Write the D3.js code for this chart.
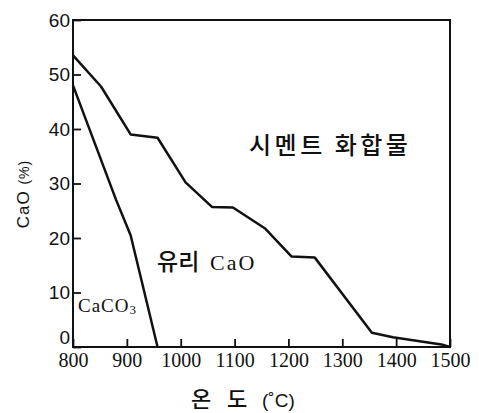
<!DOCTYPE html>
<html>
<head>
<meta charset="utf-8">
<script src="https://cdn.jsdelivr.net/npm/d3@7"></script>
<style>
  body { margin: 0; background: #fff; }
  svg { display: block; }
</style>
</head>
<body>
<svg width="479" height="413"></svg>
<script>
(function () {
    // temperatures (°C) and CaO (%)
    const xTicks = [800, 900, 1000, 1100, 1200, 1300, 1400, 1500];
    const yTicks = [0, 10, 20, 30, 40, 50, 60];

    const cementTemp = [800, 852, 907, 957, 1009, 1058, 1097, 1156, 1206, 1249, 1355, 1394, 1487, 1500];
    const cementCaO  = [53.5, 47.8, 39, 38.4, 30.2, 25.7, 25.6, 21.8, 16.6, 16.4, 2.6, 1.8, 0.4, 0];

    const caco3Temp = [800, 880, 907, 957];
    const caco3CaO  = [48, 27, 20.5, 0];

    const svg = d3.select('svg');

    const x = d3.scaleLinear().domain([800, 1500]).range([73, 450]);
    const y = d3.scaleLinear().domain([0, 60]).range([347, 20]);

    const ink = '#111';
    const kr = 'Noto Sans CJK KR, sans-serif';
    const serif = 'Liberation Serif, serif';

    // frame
    svg.append('rect')
        .attr('x', x(800))
        .attr('y', y(60))
        .attr('width', x(1500) - x(800))
        .attr('height', y(0) - y(60))
        .attr('fill', 'none')
        .attr('stroke', ink)
        .attr('stroke-width', 2);

    // axes with ticks pointing inward
    const xAxis = svg.append('g')
        .attr('transform', `translate(0,${y(0)})`)
        .call(d3.axisBottom(x).tickValues(xTicks).tickFormat(d3.format('d')).tickSize(-8).tickPadding(6));
    xAxis.select('.domain').remove();
    xAxis.selectAll('line').attr('stroke', ink).attr('stroke-width', 1.8);
    xAxis.selectAll('text')
        .attr('font-family', serif)
        .attr('font-size', 20)
        .attr('fill', ink);

    const yAxis = svg.append('g')
        .attr('transform', `translate(${x(800)},0)`)
        .call(d3.axisLeft(y).tickValues(yTicks).tickSize(-8).tickPadding(3));
    yAxis.select('.domain').remove();
    yAxis.selectAll('line').attr('stroke', ink).attr('stroke-width', 1.8);
    yAxis.selectAll('text')
        .attr('font-family', 'Liberation Sans Narrow, Liberation Sans, sans-serif')
        .attr('font-size', 19)
        .attr('fill', ink);
    // lift the "0" so it clears the 800 below
    yAxis.selectAll('text').filter(d => d === 0).attr('dy', '-0.2em');

    const line = d3.line()
        .x(d => x(d[0]))
        .y(d => y(d[1]));

    const cement = d3.zip(cementTemp, cementCaO);
    const caco3 = d3.zip(caco3Temp, caco3CaO);

    svg.append('path')
        .datum(cement)
        .attr('d', line)
        .attr('fill', 'none')
        .attr('stroke', ink)
        .attr('stroke-width', 2.5)
        .attr('stroke-linejoin', 'round');

    svg.append('path')
        .datum(caco3)
        .attr('d', line)
        .attr('fill', 'none')
        .attr('stroke', ink)
        .attr('stroke-width', 2.5)
        .attr('stroke-linejoin', 'round');

    // region labels
    svg.append('text')
        .attr('x', 249)
        .attr('y', 154)
        .attr('font-family', kr)
        .attr('font-size', 24)
        .attr('font-weight', 500)
        .attr('letter-spacing', 3.5)
        .attr('fill', ink)
        .text('시멘트 화합물');

    const glass = svg.append('text')
        .attr('x', 157)
        .attr('y', 270)
        .attr('fill', ink);
    glass.append('tspan')
        .attr('font-family', kr)
        .attr('font-size', 23)
        .attr('font-weight', 500)
        .text('유리');
    glass.append('tspan')
        .attr('x', 210)
        .attr('font-family', serif)
        .attr('font-size', 22)
        .attr('letter-spacing', 2)
        .text('CaO');

    const carb = svg.append('text')
        .attr('x', 78)
        .attr('y', 312)
        .attr('font-family', serif)
        .attr('font-size', 19)
        .attr('letter-spacing', 1)
        .attr('fill', ink);
    carb.append('tspan').text('CaCO');
    carb.append('tspan').attr('font-size', 13).attr('dy', 2).text('3');

    // axis titles
    const yt = svg.append('text')
        .attr('transform', 'translate(29,194) rotate(-90)')
        .attr('text-anchor', 'middle')
        .attr('font-family', 'Liberation Sans, sans-serif')
        .attr('letter-spacing', 1)
        .attr('fill', ink);
    yt.append('tspan').attr('font-size', 17).text('CaO ');
    yt.append('tspan').attr('font-size', 14).text('(%)');

    const xt = svg.append('text')
        .attr('y', 407)
        .attr('fill', ink);
    xt.append('tspan')
        .attr('x', 191)
        .attr('font-family', kr)
        .attr('font-size', 22)
        .attr('font-weight', 500)
        .text('온');
    xt.append('tspan')
        .attr('x', 227)
        .attr('font-family', kr)
        .attr('font-size', 22)
        .attr('font-weight', 500)
        .text('도');
    xt.append('tspan')
        .attr('x', 262)
        .attr('font-family', 'Liberation Sans, sans-serif')
        .attr('font-size', 19)
        .text('(˚C)');
})();
</script>
</body>
</html>
